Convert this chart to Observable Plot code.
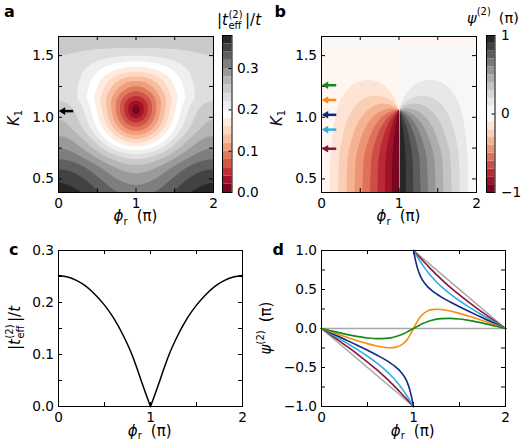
<!DOCTYPE html>
<html><head><meta charset="utf-8">
<script src="https://cdn.jsdelivr.net/npm/d3@7"></script>
<script src="https://cdn.jsdelivr.net/npm/@observablehq/plot@0.6"></script>
<style>
body{margin:0;background:#fff;}
#fig{position:relative;width:526px;height:447px;overflow:hidden;background:#fff;font-family:"DejaVu Sans",sans-serif;}
#fig svg{position:absolute;}
</style></head><body><div id="fig"></div>
<script>
// ---------------- data ----------------
// amplitudes of the two interfering paths vs K1 (read from panels a, b, d)
const K1 = [0.35,0.4,0.5,0.6,0.7,0.8,0.9,1.0,1.06,1.1,1.14,1.2,1.3,1.4,1.5,1.6,1.7];
const ampA = [0.030,0.030,0.0325,0.035,0.045,0.0675,0.0885,0.1115,0.126,0.133,0.140,0.155,0.179,0.205,0.230,0.248,0.262];
const ampB = [0.350,0.340,0.3225,0.300,0.265,0.2225,0.1815,0.1465,0.126,0.113,0.098,0.080,0.056,0.030,0.010,-0.002,-0.010];
const levelsA = [0,0.02,0.04,0.06,0.08,0.10,0.12,0.14,0.16,0.18,0.20,0.22,0.24,0.26,0.28,0.30,0.32,0.34,0.36];
const levelsB = [-1,-0.9,-0.8,-0.7,-0.6,-0.5,-0.4,-0.3,-0.2,-0.1,0,0.1,0.2,0.3,0.4,0.5,0.6,0.7,0.8,0.9];
const cbTicksA = [0,0.1,0.2,0.3];
const cbTicksB = [-1,0,1];
const phiLabels = [0,1,2];
const phiTicks = [0,0.5,1,1.5,2];
const kLabels = [0.5,1.0,1.5];
const kTicks = [0.5,0.75,1.0,1.25,1.5];
const arrowAK = [1.05];
// panel b arrows / panel d curves
const seriesK = [1.26, 1.14, 1.02, 0.90, 0.745];
const seriesColor = ["#168a16", "#ff8a10", "#0d2a7d", "#35aee3", "#8f1138"];
// panel c
const phiC = [0,0.1,0.2,0.3,0.4,0.5,0.6,0.7,0.8,0.85,0.9,0.95,1.0,1.05,1.1,1.15,1.2,1.3,1.4,1.5,1.6,1.7,1.8,1.9,2.0];
const tC = [0.252,0.249,0.242,0.231,0.215,0.195,0.170,0.138,0.099,0.075,0.049,0.024,0,0.024,0.049,0.075,0.099,0.138,0.170,0.195,0.215,0.231,0.242,0.249,0.252];
const cTicksY = [0,0.05,0.1,0.15,0.2,0.25,0.3];
const cLabelsY = [0,0.1,0.2,0.3];
// panel d
const phiLeft = [0,0.1,0.2,0.3,0.4,0.5,0.6,0.7,0.75,0.8,0.85,0.9,0.93,0.96,0.98,1.0];
const phiRight = [1.0,1.02,1.04,1.07,1.1,1.15,1.2,1.25,1.3,1.4,1.5,1.6,1.7,1.8,1.9,2.0];
const psiLeft = [
  [0,-0.028,-0.056,-0.082,-0.104,-0.121,-0.130,-0.127,-0.120,-0.106,-0.088,-0.063,-0.045,-0.026,-0.013,0],
  [0,-0.041,-0.082,-0.121,-0.159,-0.194,-0.224,-0.244,-0.247,-0.242,-0.223,-0.183,-0.143,-0.089,-0.046,0],
  [0,-0.055,-0.109,-0.165,-0.221,-0.279,-0.340,-0.406,-0.444,-0.487,-0.540,-0.616,-0.684,-0.787,-0.884,-1],
  [0,-0.067,-0.135,-0.205,-0.278,-0.356,-0.441,-0.539,-0.596,-0.659,-0.731,-0.813,-0.866,-0.922,-0.961,-1],
  [0,-0.082,-0.165,-0.249,-0.337,-0.430,-0.528,-0.634,-0.691,-0.749,-0.810,-0.872,-0.910,-0.948,-0.974,-1]
];
const psiRight = [
  [0,0.013,0.026,0.045,0.063,0.088,0.106,0.120,0.127,0.130,0.121,0.104,0.082,0.056,0.028,0],
  [0,0.046,0.089,0.143,0.183,0.223,0.242,0.247,0.244,0.224,0.194,0.159,0.121,0.082,0.041,0],
  [1,0.884,0.787,0.684,0.616,0.540,0.487,0.444,0.406,0.340,0.279,0.221,0.165,0.109,0.055,0],
  [1,0.961,0.922,0.866,0.813,0.731,0.659,0.596,0.539,0.441,0.356,0.278,0.205,0.135,0.067,0],
  [1,0.974,0.948,0.910,0.872,0.810,0.749,0.691,0.634,0.528,0.430,0.337,0.249,0.165,0.082,0]
];
const grayPhi = [0,1,1,2,0,2];
const grayPsi = [0,-1,1,0,0,0];
const grayPart = ["d1","d1","d2","d2","h","h"];
const dTicksY = [-1,-0.75,-0.5,-0.25,0,0.25,0.5,0.75,1];
const dLabelsY = [-1,-0.5,0,0.5,1];

// ---------------- helpers ----------------
const RDGY = ["#67001f","#b2182b","#d6604d","#f4a582","#fddbc7","#ffffff","#e0e0e0","#bababa","#878787","#4d4d4d","#1a1a1a"];
const cmap = d3.piecewise(d3.interpolateRgb, RDGY);
function spline(xs, ys) {
  const n = xs.length, m = new Array(n);
  for (let i = 0; i < n; i++) {
    if (i === 0) m[i] = (ys[1]-ys[0])/(xs[1]-xs[0]);
    else if (i === n-1) m[i] = (ys[n-1]-ys[n-2])/(xs[n-1]-xs[n-2]);
    else { const h0 = xs[i]-xs[i-1], h1 = xs[i+1]-xs[i];
      m[i] = ((ys[i+1]-ys[i])/h1*h0 + (ys[i]-ys[i-1])/h0*h1)/(h0+h1); }
  }
  return x => {
    let i = d3.bisectRight(xs, x) - 1; i = Math.max(0, Math.min(n-2, i));
    const h = xs[i+1]-xs[i], t = (x-xs[i])/h, t2 = t*t, t3 = t2*t;
    return (2*t3-3*t2+1)*ys[i] + (t3-2*t2+t)*h*m[i] + (-2*t3+3*t2)*ys[i+1] + (t3-t2)*h*m[i+1];
  };
}
const fa = spline(K1, ampA), fb = spline(K1, ampB);
const tMag = (x, y) => { const a = fa(y), b = fb(y), th = Math.PI*x; return Math.hypot(a + b*Math.cos(th), b*Math.sin(th)); };
const tPhase = (x, y) => { const a = fa(y), b = fb(y), th = Math.PI*x; return -Math.atan2(b*Math.sin(th), a + b*Math.cos(th))/Math.PI; };

const FONT = "DejaVu Sans", FS = "13.7px";
const fig = document.getElementById("fig");
function place(el, left, top) { el.style.left = left + "px"; el.style.top = top + "px"; fig.appendChild(el); }
const baseStyle = {background: "transparent", fontFamily: FONT, fontSize: FS, color: "#000", overflow: "visible"};
function inwardTicks(xt, yt, pw, ph, len = 4) {
  const m = [];
  if (xt) { m.push(Plot.tickX(xt, {x: d => d, insetTop: ph - len, stroke: "#000"}));
            m.push(Plot.tickX(xt, {x: d => d, insetBottom: ph - len, stroke: "#000"})); }
  if (yt) { m.push(Plot.tickY(yt, {y: d => d, insetRight: pw - len, stroke: "#000"}));
            m.push(Plot.tickY(yt, {y: d => d, insetLeft: pw - len, stroke: "#000"})); }
  return m;
}
const kDomain = [0.39, 1.655];

// ---------------- panel a ----------------
{
  const W = 215, H = 215, mL = 58, mR = 2, mT = 36, mB = 23;
  const pw = W - mL - mR, ph = H - mT - mB;
  const p = Plot.plot({
    width: W, height: H, marginLeft: mL, marginRight: mR, marginTop: mT, marginBottom: mB,
    style: baseStyle,
    x: {domain: [0, 2], ticks: phiLabels, tickFormat: "d", tickSize: 0, tickPadding: 5.5, label: null},
    y: {domain: kDomain, ticks: kLabels, tickFormat: ".1f", tickSize: 0, tickPadding: 4.5, label: null},
    color: {type: "linear", domain: [-0.01, 0.37], interpolate: cmap, clamp: true},
    marks: [
      Plot.contour({fill: tMag, x1: 0, x2: 2, y1: kDomain[0], y2: kDomain[1], thresholds: levelsA.map((v, i) => i ? v : v - 1e-6), pixelSize: 1, stroke: "none"}),
      ...inwardTicks(phiTicks, kTicks, pw, ph),
      Plot.link(arrowAK, {x1: () => 0.19, x2: () => 0.06, y1: d => d, y2: d => d, stroke: "#000", strokeWidth: 2.5}),
      Plot.dot(arrowAK, {x: () => 0.058, y: d => d, symbol: "triangle", rotate: -90, r: 2.8, fill: "#000", stroke: "none"}),
      Plot.frame({stroke: "#000"})
    ]
  });
  place(p, 0, 0);
}
// ---------------- colorbar a ----------------
{
  const W = 50, H = 215, mL = 7, mR = 33.5, mT = 35, mB = 23;
  const p = Plot.plot({
    width: W, height: H, marginLeft: mL, marginRight: mR, marginTop: mT, marginBottom: mB,
    style: baseStyle,
    y: {domain: [0, 0.38], axis: "right", ticks: cbTicksA, tickFormat: ".1f", tickSize: 0, tickPadding: 5, label: null},
    color: {type: "linear", domain: [-0.01, 0.37], interpolate: cmap, clamp: true},
    marks: [
      Plot.rect(levelsA, {y1: d => d, y2: d => d + 0.02, fill: d => d}),
      Plot.tickY(cbTicksA, {y: d => d, insetLeft: W - mL - mR - 3, stroke: "#000"}),
      Plot.frame({stroke: "#000"})
    ]
  });
  place(p, 215, 0);
}
// ---------------- panel b ----------------
{
  const W = 215, H = 215, mL = 58, mR = 2, mT = 36, mB = 23;
  const pw = W - mL - mR, ph = H - mT - mB;
  const arrows = seriesK.map((k, i) => ({k, c: seriesColor[i]}));
  const p = Plot.plot({
    width: W, height: H, marginLeft: mL, marginRight: mR, marginTop: mT, marginBottom: mB,
    style: baseStyle,
    x: {domain: [0, 2], ticks: phiLabels, tickFormat: "d", tickSize: 0, tickPadding: 5.5, label: null},
    y: {domain: kDomain, ticks: kLabels, tickFormat: ".1f", tickSize: 0, tickPadding: 4.5, label: null},
    color: {type: "linear", domain: [-1.05, 0.95], interpolate: cmap, clamp: true},
    marks: [
      Plot.contour({fill: tPhase, x1: 0, x2: 2, y1: kDomain[0], y2: kDomain[1], thresholds: levelsB.map((v, i) => i ? v : v - 1e-3), pixelSize: 1, stroke: "none"}),
      ...inwardTicks(phiTicks, kTicks, pw, ph),
      Plot.link(arrows, {x1: () => 0.19, x2: () => 0.06, y1: d => d.k, y2: d => d.k, stroke: d => d.c, strokeWidth: 2.5}),
      Plot.dot(arrows, {x: () => 0.058, y: d => d.k, symbol: "triangle", rotate: -90, r: 2.8, fill: d => d.c, stroke: "none"}),
      Plot.frame({stroke: "#000"})
    ]
  });
  place(p, 263, 0);
}
// ---------------- colorbar b ----------------
{
  const W = 48, H = 215, mL = 8, mR = 31.5, mT = 35, mB = 23;
  const p = Plot.plot({
    width: W, height: H, marginLeft: mL, marginRight: mR, marginTop: mT, marginBottom: mB,
    style: baseStyle,
    y: {domain: [-1, 1], axis: "right", ticks: cbTicksB, tickFormat: "d", tickSize: 0, tickPadding: 6, label: null},
    color: {type: "linear", domain: [-1.05, 0.95], interpolate: cmap, clamp: true},
    marks: [
      Plot.rect(levelsB, {y1: d => d, y2: d => d + 0.1, fill: d => d}),
      Plot.tickY(cbTicksB, {y: d => d, insetLeft: W - mL - mR - 3, stroke: "#000"}),
      Plot.frame({stroke: "#000"})
    ]
  });
  place(p, 478, 0);
}
// ---------------- panel c ----------------
{
  const W = 250, H = 205, mL = 58, mR = 8, mT = 25, mB = 24;
  const pw = W - mL - mR, ph = H - mT - mB;
  const rowsL = phiC.map((x, i) => ({x, y: tC[i], s: "L"})).filter((d, i) => i <= 12);
  const rowsR = phiC.map((x, i) => ({x, y: tC[i], s: "R"})).filter((d, i) => i >= 12);
  const p = Plot.plot({
    width: W, height: H, marginLeft: mL, marginRight: mR, marginTop: mT, marginBottom: mB,
    style: baseStyle,
    x: {domain: [0, 2], ticks: phiLabels, tickFormat: "d", tickSize: 0, tickPadding: 5.5, label: null},
    y: {domain: [0, 0.3], ticks: cLabelsY, tickFormat: ".1f", tickSize: 0, tickPadding: 4.5, label: null},
    marks: [
      ...inwardTicks(phiTicks, cTicksY, pw, ph),
      Plot.line([...rowsL, ...rowsR], {x: "x", y: "y", z: "s", stroke: "#000", strokeWidth: 1.5, curve: "monotone-x"}),
      Plot.frame({stroke: "#000"})
    ]
  });
  place(p, 0, 225);
}
// ---------------- panel d ----------------
{
  const W = 263, H = 205, mL = 58, mR = 21, mT = 25, mB = 24;
  const pw = W - mL - mR, ph = H - mT - mB;
  const gray = grayPhi.map((x, i) => ({x, y: grayPsi[i], s: grayPart[i]}));
  const curves = [];
  [4, 3, 2, 1, 0].forEach(j => {
    const joined = seriesK[j] > 1.06;
    phiLeft.forEach((x, i) => curves.push({x, y: psiLeft[j][i], s: j + (joined ? "" : "L"), c: seriesColor[j]}));
    phiRight.forEach((x, i) => { if (joined && i === 0) return; curves.push({x, y: psiRight[j][i], s: j + (joined ? "" : "R"), c: seriesColor[j]}); });
  });
  const p = Plot.plot({
    width: W, height: H, marginLeft: mL, marginRight: mR, marginTop: mT, marginBottom: mB,
    style: baseStyle,
    x: {domain: [0, 2], ticks: phiLabels, tickFormat: "d", tickSize: 0, tickPadding: 5.5, label: null},
    y: {domain: [-1, 1], ticks: dLabelsY, tickFormat: ".1f", tickSize: 0, tickPadding: 4.5, label: null},
    marks: [
      ...inwardTicks(phiTicks, dTicksY, pw, ph),
      Plot.line(gray, {x: "x", y: "y", z: "s", stroke: "#a8a8a8", strokeWidth: 1.6}),
      Plot.line(curves, {x: "x", y: "y", z: "s", stroke: "c", strokeWidth: 1.6, curve: "monotone-x"}),
      Plot.frame({stroke: "#000"})
    ]
  });
  place(p, 263, 225);
}

// ---------------- text overlay ----------------
const ov = d3.select(fig).append("svg").attr("width", 526).attr("height", 447)
  .style("left", "0px").style("top", "0px").style("pointer-events", "none")
  .attr("font-family", FONT).attr("fill", "#000");
function mathLabel(parts, x, y, {anchor = "middle", rotate = 0, size = 15} = {}) {
  const g = ov.append("g");
  let cx = 0;
  for (const p of parts) {
    const items = p.stack || [p];
    let w = 0;
    for (const it of items) {
      const t = g.append("text").attr("x", cx).attr("y", it.dy || 0)
        .attr("font-size", it.size || size).attr("font-style", it.italic ? "italic" : "normal").text(it.t);
      w = Math.max(w, t.node().getComputedTextLength());
    }
    cx += w + (p.after || 0);
  }
  const off = anchor === "middle" ? -cx / 2 : anchor === "end" ? -cx : 0;
  g.attr("transform", `translate(${x},${y}) rotate(${rotate}) translate(${off},0)`);
}
const teff = [{t: "|"}, {t: "t", italic: true, after: 0.5}, {stack: [{t: "(2)", size: 10, dy: -7.5}, {t: "eff", size: 10, dy: 3.5}], after: 2.5}, {t: "|/"}, {t: "t", italic: true}];
const phiR = [{t: "ϕ", italic: true}, {t: "r", size: 10, dy: 3.5, after: 9}, {t: "(π)"}];
const k1 = [{t: "K", italic: true}, {t: "1", size: 10, dy: 3.5}];
const psi = [{t: "ψ", italic: true}, {t: "(2)", size: 10, dy: -7.5, after: 8}, {t: "(π)"}];

function letter(t, x, y) { ov.append("text").attr("x", x).attr("y", y).attr("font-size", 16).attr("font-weight", "bold").text(t); }
letter("a", 4, 16.5); letter("b", 274.5, 16.5); letter("c", 9, 255); letter("d", 272.5, 255);

mathLabel(teff, 239, 25);
mathLabel(psi, 493, 22.5, {size: 14.5});
mathLabel(phiR, 135.5, 221);
mathLabel(phiR, 398.5, 221);
mathLabel(phiR, 149.7, 435.5);
mathLabel(phiR, 412.7, 435.5);
mathLabel(k1, 18.5, 118, {rotate: -90});
mathLabel(k1, 281.5, 118, {rotate: -90});
mathLabel(teff, 20, 328, {rotate: -90});
mathLabel(psi, 271, 328, {rotate: -90});
</script>
</body></html>
